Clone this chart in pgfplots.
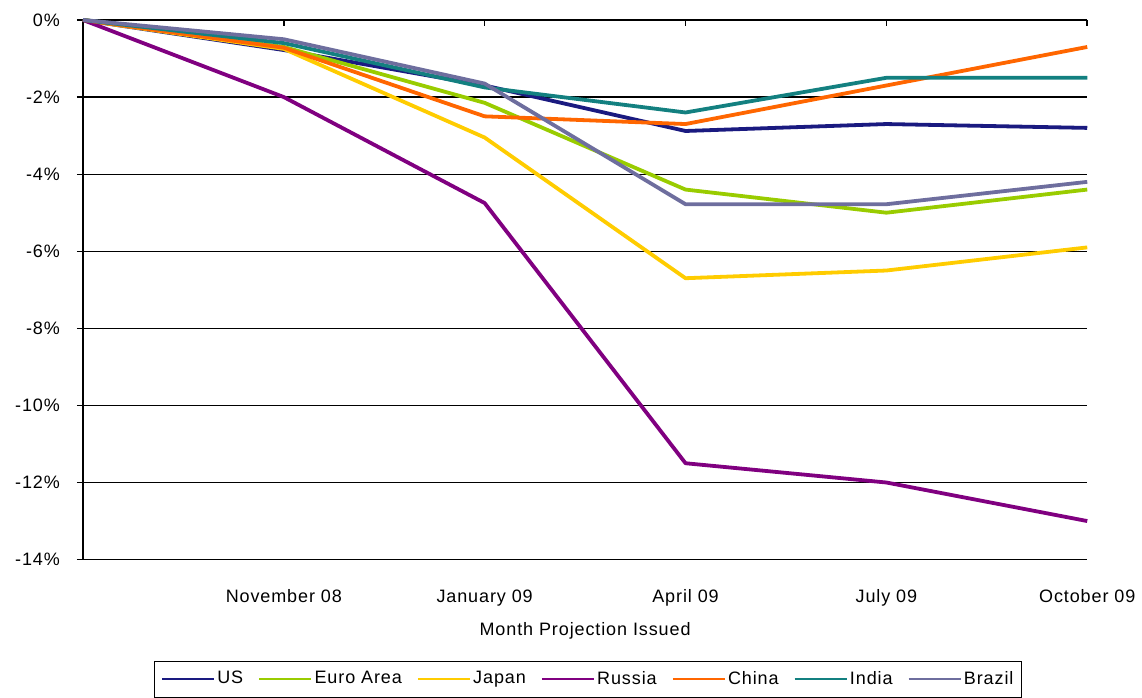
\documentclass[border=0pt]{standalone}
\usepackage{pgfplots}
\pgfplotsset{compat=1.18}
\usepackage{fontspec}
\setmainfont{Liberation Sans}[LetterSpace=5]
\definecolor{cUS}{HTML}{1A1A80}
\definecolor{cEU}{HTML}{99CC00}
\definecolor{cJP}{HTML}{FFCC00}
\definecolor{cRU}{HTML}{800080}
\definecolor{cCN}{HTML}{FF6600}
\definecolor{cIN}{HTML}{138080}
\definecolor{cBR}{HTML}{6E6E9E}
\begin{document}
\begin{tikzpicture}
\begin{axis}[
  scale only axis,
  width=502.5pt, height=270pt,
  xmin=0, xmax=5, ymin=-14, ymax=0,
  axis x line=box, axis y line*=left,
  xtick pos=right,
  xticklabel pos=left,
  axis line style={-, black, line width=0.6pt},
  xtick={0,1,2,3,4,5},
  xticklabels={{}, November 08, January 09, April 09, July 09, October 09},
  xtick style={black, line width=0.8pt},
  xtick align=inside,
  xticklabel style={anchor=north, yshift=-11.5pt, font=\fontsize{9}{10}\selectfont},
  ytick={-14,-12,-10,-8,-6,-4,-2,0},
  yticklabels={{-14\%},{-12\%},{-10\%},{-8\%},{-6\%},{-4\%},{-2\%},{0\%}},
  yticklabel style={font=\fontsize{9}{10}\selectfont, xshift=-5pt},
  ytick align=outside,
  ytick style={black, line width=0.6pt},
  major tick length=3pt,
  ymajorgrids,
  grid style={black, line width=0.6pt},
  xlabel={Month Projection Issued},
  xlabel style={at={(axis description cs:0.5,-0.1315)}, anchor=center, font=\fontsize{9}{10}\selectfont},
  legend columns=7,
  legend style={at={(axis description cs:0.503,-0.187)}, anchor=north, draw=black, line width=0.5pt,
    font=\fontsize{9}{10}\selectfont, inner xsep=3pt, inner ysep=3pt,
    nodes={inner xsep=1pt, inner ysep=2pt},
    /tikz/every even column/.append style={column sep=6.4pt}},
  legend image code/.code={\draw[#1, line width=1.3pt] (0pt,0pt) -- (26pt,0pt);},
  every axis plot/.append style={line width=1.9pt, mark=none, line join=round},
  clip=false,
]
\addplot[cUS] coordinates {(0,0) (1,-0.78) (2,-1.7) (3,-2.88) (4,-2.7) (5,-2.8)};
\addlegendentry{US}
\addplot[cEU] coordinates {(0,0) (1,-0.7) (2,-2.15) (3,-4.4) (4,-5.0) (5,-4.4)};
\addlegendentry{Euro Area}
\addplot[cJP] coordinates {(0,0) (1,-0.75) (2,-3.05) (3,-6.7) (4,-6.5) (5,-5.9)};
\addlegendentry{Japan}
\addplot[cRU] coordinates {(0,0) (1,-2.0) (2,-4.75) (3,-11.5) (4,-12.0) (5,-13.0)};
\addlegendentry{Russia}
\addplot[cCN] coordinates {(0,0) (1,-0.72) (2,-2.5) (3,-2.7) (4,-1.7) (5,-0.7)};
\addlegendentry{China}
\addplot[cIN] coordinates {(0,0) (1,-0.6) (2,-1.75) (3,-2.4) (4,-1.5) (5,-1.5)};
\addlegendentry{India}
\addplot[cBR] coordinates {(0,0) (1,-0.5) (2,-1.65) (3,-4.78) (4,-4.78) (5,-4.2)};
\addlegendentry{Brazil}
\end{axis}
\path ([yshift=10pt]current axis.north);
\path ([xshift=-41.5pt]current axis.west);
\path ([xshift=27pt]current axis.east);
\end{tikzpicture}
\end{document}
